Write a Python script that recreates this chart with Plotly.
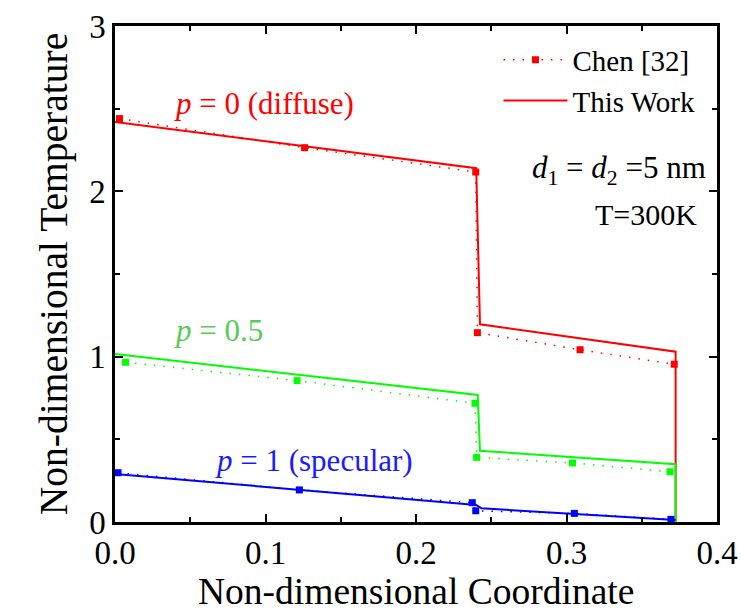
import plotly.graph_objects as go

# ---- data ----
chen_red_x = [0.003, 0.126, 0.2397, 0.2408, 0.309, 0.3716]
chen_red_y = [2.44, 2.264, 2.117, 1.145, 1.042, 0.954]
work_red_x = [0.0, 0.240, 0.2425, 0.3725, 0.3725]
work_red_y = [2.42, 2.14, 1.196, 1.03, 0.0]

chen_green_x = [0.007, 0.121, 0.2392, 0.2403, 0.304, 0.3688]
chen_green_y = [0.966, 0.855, 0.718, 0.391, 0.357, 0.304]
work_green_x = [0.0, 0.241, 0.2425, 0.3725, 0.3725]
work_green_y = [1.016, 0.768, 0.431, 0.349, 0.0]

chen_blue_x = [0.002, 0.1225, 0.2374, 0.2397, 0.3052, 0.3694]
chen_blue_y = [0.298, 0.194, 0.117, 0.068, 0.052, 0.016]
work_blue_x = [0.0, 0.240, 0.2415, 0.2435, 0.3725]
work_blue_y = [0.29, 0.103, 0.095, 0.083, 0.012]

x_ticks = [0.0, 0.1, 0.2, 0.3, 0.4]
x_tick_text = ["0.0", "0.1", "0.2", "0.3", "0.4"]
y_ticks = [0, 1, 2, 3]
y_tick_text = ["0", "1", "2", "3"]

RED = "#ff0000"
GREEN = "#00ff00"
BLUE = "#0000ff"
FONT = "Liberation Serif"
DOT = "1.5px,8px"

fig = go.Figure()


def add_pair(cx, cy, wx, wy, color, legend):
    fig.add_trace(go.Scatter(
        x=cx, y=cy, mode="lines+markers", name="Chen [32]",
        line=dict(color=color, width=1.5, dash=DOT),
        marker=dict(symbol="square", size=7, color=color),
        showlegend=legend))
    fig.add_trace(go.Scatter(
        x=wx, y=wy, mode="lines", name="This Work",
        line=dict(color=color, width=2),
        showlegend=legend))


add_pair(chen_red_x, chen_red_y, work_red_x, work_red_y, RED, True)
add_pair(chen_green_x, chen_green_y, work_green_x, work_green_y, GREEN, False)
add_pair(chen_blue_x, chen_blue_y, work_blue_x, work_blue_y, BLUE, False)

axis_common = dict(
    showline=True, linecolor="black", linewidth=2.5, mirror="allticks",
    ticks="inside", ticklen=8, tickwidth=2, tickcolor="black",
    showgrid=False, zeroline=False, automargin=False,
    tickfont=dict(family=FONT, size=33, color="black"),
)

fig.update_xaxes(
    range=[0, 0.4], tickvals=x_ticks, ticktext=x_tick_text,
    minor=dict(dtick=0.05, ticks="inside", ticklen=5, tickwidth=2, tickcolor="black", showgrid=False),
    **axis_common)
fig.update_yaxes(
    range=[0, 3], tickvals=y_ticks, ticktext=y_tick_text,
    minor=dict(dtick=0.5, ticks="inside", ticklen=5, tickwidth=2, tickcolor="black", showgrid=False),
    title=dict(text="Non-dimensional Temperature", font=dict(family=FONT, size=39.5, color="black"), standoff=10),
    **axis_common)

ann_font = dict(family=FONT, size=31)
annotations = [
    dict(x=0.038, y=2.53, text="<i>p</i> = 0 (diffuse)", font=dict(color=RED, **ann_font)),
    dict(x=0.038, y=1.16, text="<i>p</i> = 0.5", font=dict(color="#55cc55", **ann_font)),
    dict(x=0.065, y=0.375, text="<i>p</i> = 1 (specular)", font=dict(color="#1a1aff", **ann_font)),
    dict(x=0.2757, y=2.13, text="<i>d</i><sub>1</sub> = <i>d</i><sub>2</sub> =5 nm", font=dict(color="black", **ann_font)),
    dict(x=0.3176, y=1.857, text="T=300K", font=dict(color="black", family=FONT, size=30)),
]
for a in annotations:
    a.update(xref="x", yref="y", xanchor="left", yanchor="middle", showarrow=False)

# x-axis title placed as paper annotation so it sits as low as in the reference
annotations.append(dict(
    x=0.5, y=-0.141, xref="paper", yref="paper", xanchor="center", yanchor="middle",
    showarrow=False, text="Non-dimensional Coordinate",
    font=dict(family=FONT, size=37.5, color="black")))

fig.update_layout(
    width=741, height=614,
    margin=dict(l=115, r=24, t=26, b=92),
    paper_bgcolor="white", plot_bgcolor="white",
    annotations=annotations,
    legend=dict(x=0.637, y=0.983, xanchor="left", yanchor="top",
                bgcolor="rgba(0,0,0,0)", font=dict(family=FONT, size=29, color="black"),
                itemwidth=64, tracegroupgap=0),
    font=dict(family=FONT),
)

fig.write_html("out.html")
